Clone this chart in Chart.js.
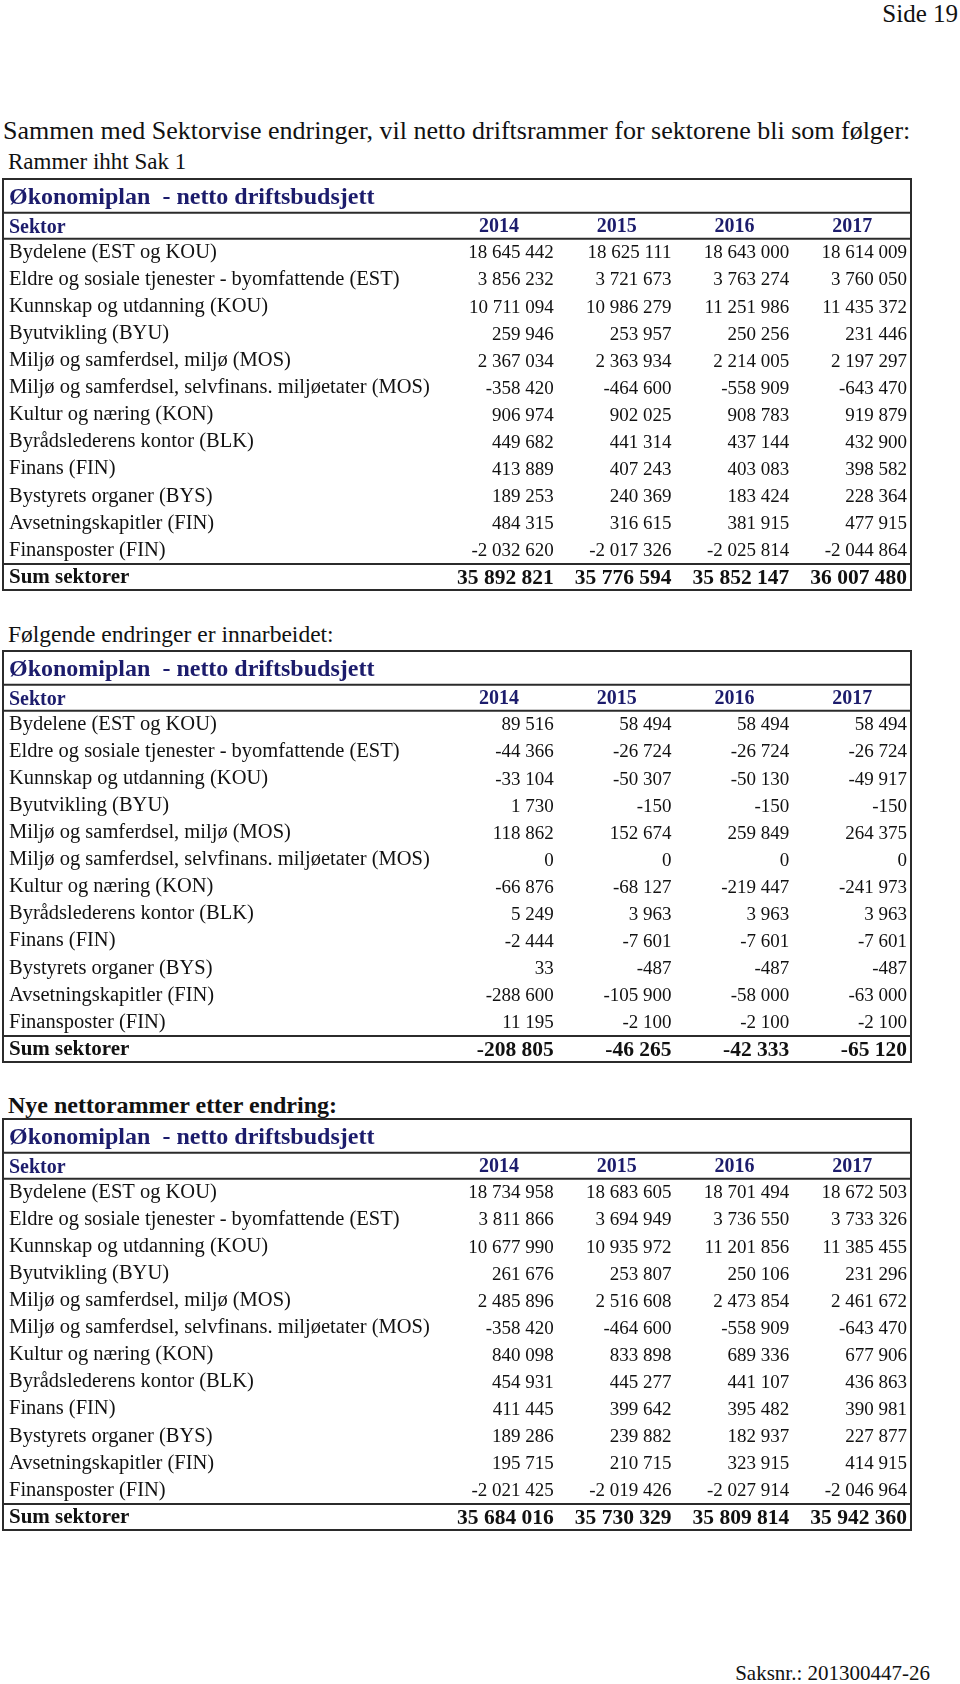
<!DOCTYPE html>
<html lang="no">
<head>
<meta charset="utf-8">
<title>Side 19</title>
<script src="https://cdn.jsdelivr.net/npm/chart.js@4.4.1/dist/chart.umd.min.js"></script>
<style>
  html, body { margin: 0; padding: 0; background: #fff; }
  body { width: 960px; height: 1684px; position: relative; overflow: hidden;
         font-family: 'Liberation Serif', 'Times New Roman', serif; color: #111; }
  .txt { position: absolute; white-space: nowrap; line-height: 1; }
  canvas.tabell { position: absolute; left: 0; }
</style>
</head>
<body>

<div class="txt" style="right:2px; top:1px; font-size:25px;">Side 19</div>
<div class="txt" style="left:3px; top:118px; font-size:26px;">Sammen med Sektorvise endringer, vil netto driftsrammer for sektorene bli som følger:</div>
<div class="txt" style="left:8px; top:150px; font-size:23px;">Rammer ihht Sak 1</div>
<canvas id="tabell1" class="tabell" width="960" height="417" style="top:176px"></canvas>

<div class="txt" style="left:8px; top:623px; font-size:23.5px;">Følgende endringer er innarbeidet:</div>
<canvas id="tabell2" class="tabell" width="960" height="417" style="top:648px"></canvas>

<div class="txt" style="left:8px; top:1093px; font-size:24px; font-weight:bold;">Nye nettorammer etter endring:</div>
<canvas id="tabell3" class="tabell" width="960" height="417" style="top:1116px"></canvas>

<div class="txt" style="right:30px; top:1663px; font-size:21px;">Saksnr.: 201300447-26</div>

<script>
// ---- data ----
const years = ['2014', '2015', '2016', '2017'];
const sectors = [
  'Bydelene (EST og KOU)',
  'Eldre og sosiale tjenester - byomfattende (EST)',
  'Kunnskap og utdanning (KOU)',
  'Byutvikling (BYU)',
  'Miljø og samferdsel, miljø (MOS)',
  'Miljø og samferdsel, selvfinans. miljøetater (MOS)',
  'Kultur og næring (KON)',
  'Byrådslederens kontor (BLK)',
  'Finans (FIN)',
  'Bystyrets organer (BYS)',
  'Avsetningskapitler (FIN)',
  'Finansposter (FIN)'
];
const sumLabel = 'Sum sektorer';
const tableTitle = 'Økonomiplan  - netto driftsbudsjett';

// Rammer ihht Sak 1
const rammer2014 = [18645442, 3856232, 10711094, 259946, 2367034, -358420, 906974, 449682, 413889, 189253, 484315, -2032620];
const rammer2015 = [18625111, 3721673, 10986279, 253957, 2363934, -464600, 902025, 441314, 407243, 240369, 316615, -2017326];
const rammer2016 = [18643000, 3763274, 11251986, 250256, 2214005, -558909, 908783, 437144, 403083, 183424, 381915, -2025814];
const rammer2017 = [18614009, 3760050, 11435372, 231446, 2197297, -643470, 919879, 432900, 398582, 228364, 477915, -2044864];
const rammerSum = [35892821, 35776594, 35852147, 36007480];

// Følgende endringer er innarbeidet
const endring2014 = [89516, -44366, -33104, 1730, 118862, 0, -66876, 5249, -2444, 33, -288600, 11195];
const endring2015 = [58494, -26724, -50307, -150, 152674, 0, -68127, 3963, -7601, -487, -105900, -2100];
const endring2016 = [58494, -26724, -50130, -150, 259849, 0, -219447, 3963, -7601, -487, -58000, -2100];
const endring2017 = [58494, -26724, -49917, -150, 264375, 0, -241973, 3963, -7601, -487, -63000, -2100];
const endringSum = [-208805, -46265, -42333, -65120];

// Nye nettorammer etter endring
const nye2014 = [18734958, 3811866, 10677990, 261676, 2485896, -358420, 840098, 454931, 411445, 189286, 195715, -2021425];
const nye2015 = [18683605, 3694949, 10935972, 253807, 2516608, -464600, 833898, 445277, 399642, 239882, 210715, -2019426];
const nye2016 = [18701494, 3736550, 11201856, 250106, 2473854, -558909, 689336, 441107, 395482, 182937, 323915, -2027914];
const nye2017 = [18672503, 3733326, 11385455, 231296, 2461672, -643470, 677906, 436863, 390981, 227877, 414915, -2046964];
const nyeSum = [35684016, 35730329, 35809814, 35942360];

// ---- stil ----
const SERIF = "'Liberation Serif', 'Times New Roman', serif";
const NAVY = '#1c1c6c';
const INK = '#111';
const LINE = '#2b2b2b';

// tallformat med mellomrom som tusenskille
function fmt(n) {
  const s = Math.abs(n).toString().replace(/\B(?=(\d{3})+(?!\d))/g, ' ');
  return (n < 0 ? '-' : '') + s;
}

// tegner tallene i cellene og rammene rundt tabellen
function cellPlugin(columns, sums) {
  return {
    id: 'cells',
    afterDraw(chart) {
      const { ctx, chartArea } = chart;
      const x = chart.scales.x;
      const y = chart.scales.y;
      const half = x.width / years.length / 2;
      const rowH = chartArea.height / (sectors.length + 1);

      ctx.save();
      ctx.textAlign = 'right';
      ctx.textBaseline = 'middle';
      ctx.fillStyle = INK;
      columns.forEach((col, j) => {
        const right = x.getPixelForValue(j) + half - 4;
        ctx.font = '19px ' + SERIF;
        col.forEach((v, i) => ctx.fillText(fmt(v), right, y.getPixelForValue(i) + 1));
        ctx.font = 'bold 21.5px ' + SERIF;
        ctx.fillText(fmt(sums[j]), right, y.getPixelForValue(sectors.length) + 1);
      });

      // "Sektor" i overskriftsraden
      ctx.textAlign = 'left';
      ctx.fillStyle = NAVY;
      ctx.font = 'bold 20px ' + SERIF;
      ctx.fillText('Sektor', y.left, (x.top + x.bottom) / 2 + 2);

      // rammer
      const top = chart.titleBlock.top + 1;
      const left = y.left - 6;
      ctx.strokeStyle = LINE;
      ctx.lineWidth = 2;
      ctx.strokeRect(left, top, chartArea.right - left, chartArea.bottom - 1 - top);
      const sumTop = y.getPixelForValue(sectors.length) - rowH / 2;
      [x.top, chartArea.top, sumTop].forEach(yy => {
        ctx.beginPath();
        ctx.moveTo(left, yy);
        ctx.lineTo(chartArea.right, yy);
        ctx.stroke();
      });
      ctx.restore();
    }
  };
}

function buildTable(canvasId, columns, sums) {
  const rows = sectors.concat([sumLabel]);
  const last = rows.length - 1;
  return new Chart(document.getElementById(canvasId), {
    type: 'bar',
    data: { labels: years, datasets: [] },
    options: {
      responsive: false,
      animation: false,
      devicePixelRatio: 1,
      layout: { padding: { top: 2, bottom: 2, left: 9, right: 49 } },
      plugins: {
        legend: { display: false },
        tooltip: { enabled: false },
        title: {
          display: true,
          text: tableTitle,
          align: 'start',
          color: NAVY,
          font: { family: SERIF, size: 24, weight: 'bold', lineHeight: 1.2 },
          padding: { top: 5, bottom: 1 }
        }
      },
      scales: {
        x: {
          type: 'category',
          position: 'top',
          offset: true,
          grid: { display: false, drawTicks: false },
          border: { display: false },
          ticks: { color: NAVY, font: { family: SERIF, size: 20, weight: 'bold' }, padding: 0 },
          afterFit: s => { s.height = 26; s.paddingLeft = 0; s.paddingRight = 0; }
        },
        y: {
          type: 'category',
          labels: rows,
          offset: true,
          grid: { display: false, drawTicks: false },
          border: { display: false },
          ticks: {
            autoSkip: false,
            crossAlign: 'far',
            padding: 0,
            color: INK,
            font: c => c.index === last
              ? { family: SERIF, size: 21, weight: 'bold' }
              : { family: SERIF, size: 20.5 }
          },
          afterFit: s => { s.width = 431; s.paddingTop = 0; s.paddingBottom = 0; }
        }
      }
    },
    plugins: [cellPlugin(columns, sums)]
  });
}

buildTable('tabell1', [rammer2014, rammer2015, rammer2016, rammer2017], rammerSum);
buildTable('tabell2', [endring2014, endring2015, endring2016, endring2017], endringSum);
buildTable('tabell3', [nye2014, nye2015, nye2016, nye2017], nyeSum);
</script>
</body>
</html>
